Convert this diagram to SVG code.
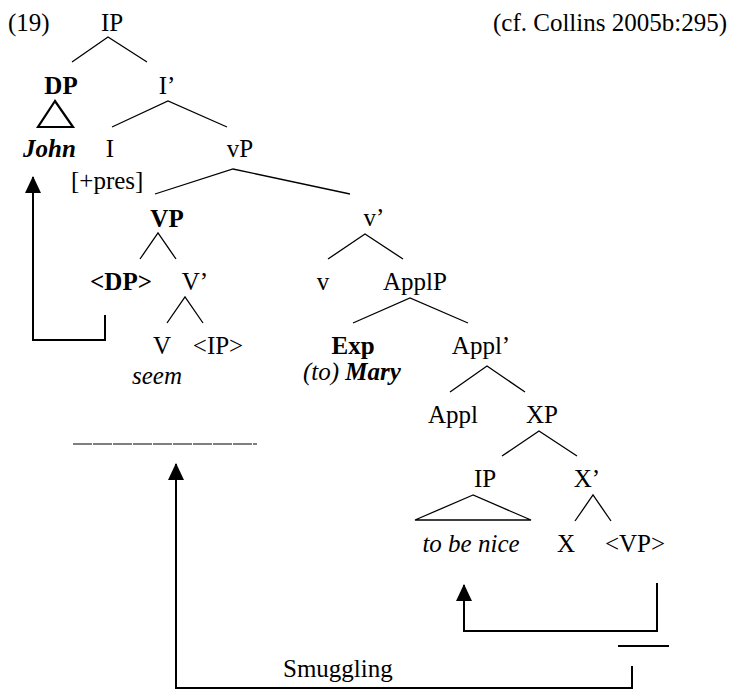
<svg xmlns="http://www.w3.org/2000/svg" width="738" height="690" viewBox="0 0 738 690">
<defs>
<style>
text{font-family:'Liberation Serif','DejaVu Serif',serif;font-size:25px;fill:#000}
.c{text-anchor:middle}
.b{font-weight:bold}
.i{font-style:italic}
.t{stroke:#000;stroke-width:1.3;fill:none}
.a{stroke:#000;stroke-width:2;fill:none}
</style>
<marker id="ah" markerUnits="userSpaceOnUse" markerWidth="18" markerHeight="19" refX="9" refY="1" orient="0" viewBox="0 0 18 19">
<polygon points="9,0 1,17 17,17" fill="#000"/>
</marker>
</defs>
<rect width="738" height="690" fill="#fff"/>
<g id="labels">
<text x="8" y="31">(19)</text>
<text x="727" y="31" text-anchor="end">(cf. Collins 2005b:295)</text>
</g>
<g id="IP"><text class="c" x="112" y="31">IP</text></g>
<g id="DP"><text class="c b" x="61" y="94">DP</text></g>
<g id="I1"><text class="c" x="167" y="94">I’</text></g>
<g id="John"><text class="c b i" x="49.5" y="157">John</text></g>
<g id="I"><text class="c" x="110" y="157">I</text><text x="71" y="189">[+pres]</text></g>
<g id="vP"><text class="c" x="240" y="157">vP</text></g>
<g id="VP"><text class="c b" x="167" y="227">VP</text></g>
<g id="v1"><text class="c" x="374" y="226">v’</text></g>
<g id="DPtrace"><text class="c b" x="121" y="290">&lt;DP&gt;</text></g>
<g id="V1"><text class="c" x="195" y="290">V’</text></g>
<g id="v"><text class="c" x="323" y="290">v</text></g>
<g id="ApplP"><text class="c" x="415" y="290">ApplP</text></g>
<g id="V"><text class="c" x="162" y="354">V</text><text class="c i" x="157" y="384">seem</text></g>
<g id="IPtrace"><text class="c" x="218" y="354">&lt;IP&gt;</text></g>
<g id="Exp"><text class="c b" x="353" y="354">Exp</text><text x="303" y="380"><tspan class="i">(to) </tspan><tspan class="b i">Mary</tspan></text></g>
<g id="Appl1"><text class="c" x="481" y="354">Appl’</text></g>
<g id="Appl"><text class="c" x="453" y="423">Appl</text></g>
<g id="XP"><text class="c" x="542" y="423">XP</text></g>
<g id="IP2"><text class="c" x="485" y="487">IP</text></g>
<g id="X1"><text class="c" x="587" y="487">X’</text></g>
<g id="tobenice"><text class="c i" x="471" y="552">to be nice</text></g>
<g id="X"><text class="c" x="566" y="552">X</text></g>
<g id="VPtrace"><text class="c" x="635" y="552">&lt;VP&gt;</text></g>
<g id="gap"><line x1="73" y1="444" x2="257" y2="444" stroke="#000" stroke-width="1.2" stroke-dasharray="19 1"/></g>
<g id="smuggling"><text x="283" y="677">Smuggling</text></g>
<g id="connectors">
<path class="t" d="M72,62 L108,37 L147,62"/>
<polygon points="55,101 38,127 73,127" fill="none" stroke="#000" stroke-width="2.2"/>
<path class="t" d="M112,127 L168,101 L227,127"/>
<path class="t" d="M155,194 L233,169 L350,194"/>
<path class="t" d="M140,259 L158,233 L176,259"/>
<path class="t" d="M328,259 L365,234 L403,259"/>
<path class="t" d="M167,323 L185,297 L203,323"/>
<path class="t" d="M353,323 L410,298 L468,323"/>
<path class="t" d="M450,392 L487,366 L525,392"/>
<path class="t" d="M502,456 L539,431 L577,456"/>
<polygon class="t" points="473,495 415,520 531,520"/>
<path class="t" d="M575,521 L593,495 L611,521"/>
<path class="a" d="M105,315 V340 H33 V177" marker-end="url(#ah)"/>
<path class="a" d="M632,666 V688 H176 V464" marker-end="url(#ah)"/>
<path class="a" d="M657,583 V631 H464 V585" marker-end="url(#ah)"/>
<line class="a" x1="618" y1="646" x2="669" y2="646"/>
</g>
</svg>
